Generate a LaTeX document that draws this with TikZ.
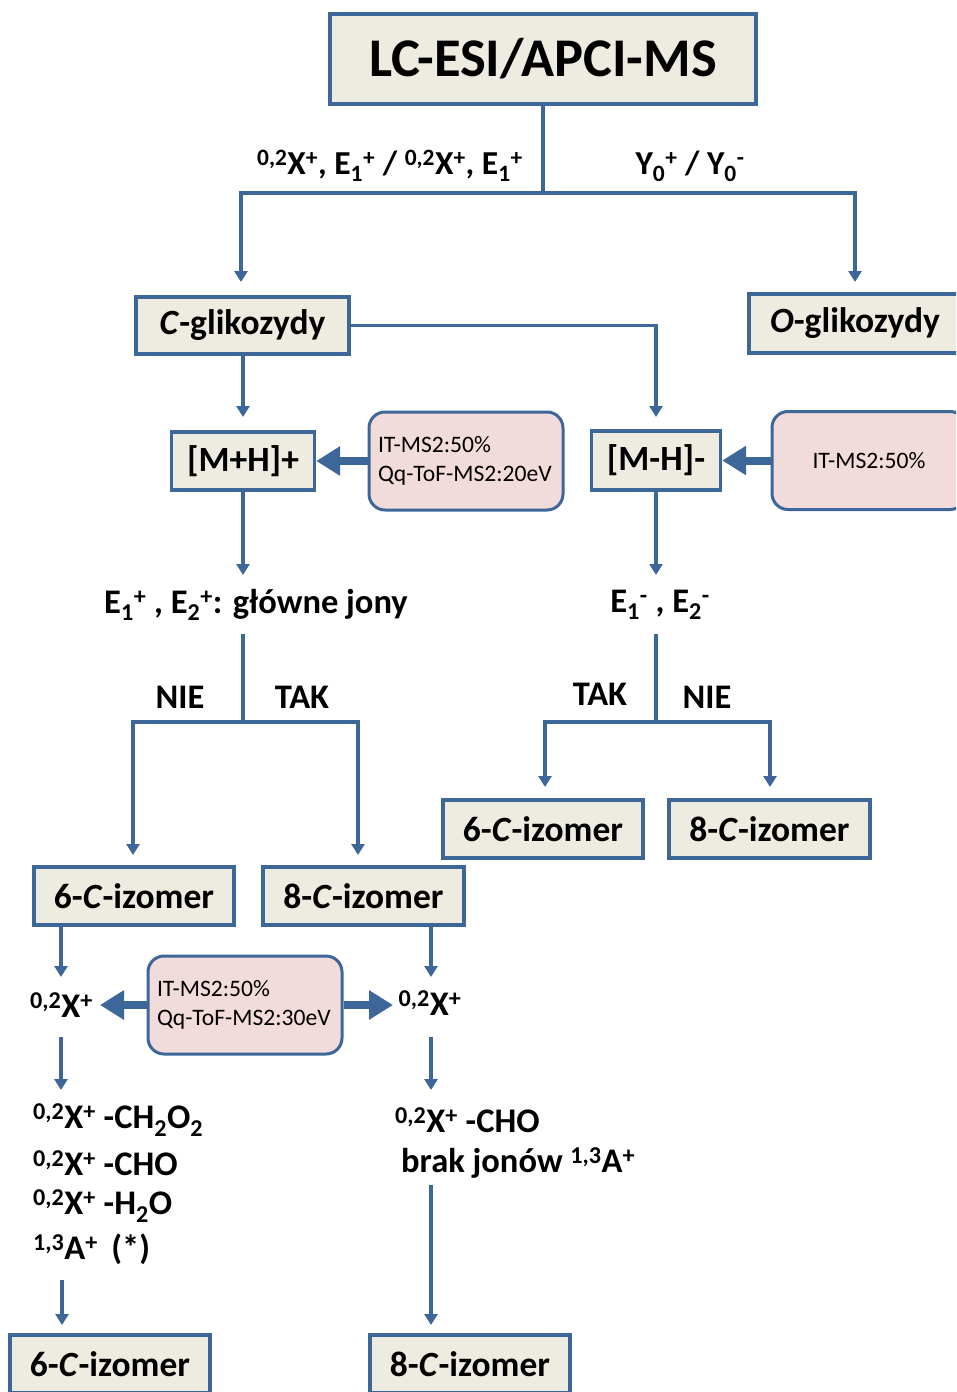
\documentclass[tikz,border=0pt]{standalone}
\usepackage{fontspec}
\setmainfont{Carlito}
\usetikzlibrary{arrows.meta,calc}
\definecolor{edge}{HTML}{3D6699}
\definecolor{boxfill}{HTML}{EEECE1}
\definecolor{pinkfill}{HTML}{F2DCDB}
\newcommand{\up}[1]{\textsuperscript{#1}}
\newcommand{\dn}[1]{\textsubscript{#1}}
\begin{document}
\begin{tikzpicture}[x=1pt,y=-1pt,
  box/.style={draw=edge, line width=3.4pt, fill=boxfill, inner sep=0pt,
    font=\fontsize{35.5}{40}\selectfont\bfseries},
  param/.style={draw=edge, line width=3pt, fill=pinkfill, rounded corners=16pt,
    inner xsep=9pt, inner ysep=0pt, minimum width=194pt, minimum height=98pt,
    text width=176pt, align=left, font=\fontsize{23.6}{28.5}\selectfont},
  wire/.style={draw=edge, line width=3.4pt},
  conn/.style={wire, -{Triangle[length=11pt,width=13pt]}},
  fat/.style={draw=edge, line width=8pt, -{Triangle[length=24pt,width=28pt]}},
  lbl/.style={inner sep=0pt, font=\fontsize{34.5}{40}\selectfont\bfseries},
  toplbl/.style={inner sep=0pt, font=\fontsize{33.5}{40}\selectfont\bfseries},
]
\clip (0,0) rectangle (956,1392);

% --- boxes -------------------------------------------------------------
\node[box, minimum width=426pt, minimum height=90pt,
      font=\fontsize{54.5}{60}\selectfont\bfseries] (title) at (543,59) {LC-ESI/APCI-MS};
\node[box, minimum width=213pt, minimum height=57pt] (cgl) at (242.5,325.5) {\textit{C}-glikozydy};
\node[box, minimum width=212pt, minimum height=59pt] (ogl) at (855,323.5) {\textit{O}-glikozydy};
\node[box, minimum width=143pt, minimum height=58pt] (mh) at (243,461) {[M+H]+};
\node[box, minimum width=129pt, minimum height=59pt] (mmh) at (656,460.5) {[M-H]-};
\node[box, minimum width=200pt, minimum height=58pt] (l6) at (134,896) {6-\textit{C}-izomer};
\node[box, minimum width=201pt, minimum height=58pt] (l8) at (363.5,896) {8-\textit{C}-izomer};
\node[box, minimum width=200pt, minimum height=58pt] (r6) at (543,829) {6-\textit{C}-izomer};
\node[box, minimum width=201pt, minimum height=58pt] (r8) at (769.5,829) {8-\textit{C}-izomer};
\node[box, minimum width=200pt, minimum height=58pt] (b6) at (110,1364) {6-\textit{C}-izomer};
\node[box, minimum width=200pt, minimum height=58pt] (b8) at (470,1364) {8-\textit{C}-izomer};

% --- fragmentation settings ----------------------------------------------
\node[param] (p1) at (466,461) {IT-MS2:50\%\\Qq-ToF-MS2:20eV};
\node[param, align=center] (p2) at (869,460.5) {IT-MS2:50\%};
\node[param] (p3) at (245,1005) {IT-MS2:50\%\\Qq-ToF-MS2:30eV};

% --- texts ---------------------------------------------------------------
\node[toplbl] (ion1) at (390,166) {\up{0,2}X\up{+}, E\dn{1}\up{+} / \up{0,2}X\up{+}, E\dn{1}\up{+}};
\node[toplbl] (ion2) at (690,166) {Y\dn{0}\up{+} / Y\dn{0}\up{-}};
\node[lbl] (eL) at (256,605) {E\dn{1}\up{+} , E\dn{2}\up{+}: główne jony};
\node[lbl] (eR) at (660,605) {E\dn{1}\up{-} , E\dn{2}\up{-}};
\node[lbl] (nieL) at (180,697) {NIE};
\node[lbl] (takL) at (302,697) {TAK};
\node[lbl] (takR) at (600,694) {TAK};
\node[lbl] (nieR) at (707,697) {NIE};
\node[lbl] (xL) at (61.5,1005) {\up{0,2}X\up{+}};
\node[lbl] (xR) at (430,1003) {\up{0,2}X\up{+}};
\node[lbl, anchor=west] (fL1) at (33,1120) {\up{0,2}X\up{+} -CH\dn{2}O\dn{2}};
\node[lbl, anchor=west] (fL2) at (33,1163) {\up{0,2}X\up{+} -CHO};
\node[lbl, anchor=west] (fL3) at (33,1206) {\up{0,2}X\up{+} -H\dn{2}O};
\node[lbl, anchor=west] (fL4) at (33,1249) {\up{1,3}A\up{+} \,(*)};
\node[lbl, anchor=west] (fR1) at (395,1120) {\up{0,2}X\up{+} -CHO};
\node[lbl, anchor=west] (fR2) at (401,1163) {brak jonów \up{1,3}A\up{+}};

% --- junction and tip points ---------------------------------------------
\coordinate (j1) at (543,193);
\coordinate (tC) at (241,282);
\coordinate (tO) at (855,282);
\coordinate (tMH) at (243,417);
\coordinate (tMMH) at (656,417);
\coordinate (tEL) at (243,575);
\coordinate (tER) at (656,575);
\coordinate (sL) at (243,634);
\coordinate (jL) at (243,722);
\coordinate (tL6) at (133,855);
\coordinate (tL8) at (358,855);
\coordinate (sR) at (656,634);
\coordinate (jR) at (656,722);
\coordinate (tR6) at (545,787);
\coordinate (tR8) at (770,787);
\coordinate (tXL) at (61,977);
\coordinate (tXR) at (431,977);
\coordinate (sXL) at (61,1037);
\coordinate (sXR) at (431,1037);
\coordinate (tFL) at (61,1090);
\coordinate (tFR) at (431,1090);
\coordinate (sB6) at (62,1280);
\coordinate (tB6) at (62,1325);
\coordinate (sB8) at (431,1185);
\coordinate (tB8) at (431,1325);
\coordinate (fxL) at (100,1005);
\coordinate (fxR) at (393,1005);

% --- connectors ----------------------------------------------------------
\draw[wire] (title.south) -- (j1);
\draw[conn] (j1) -| (tC);
\draw[conn] (j1) -| (tO);
\draw[conn] (cgl.south -| tMH) -- (tMH);
\draw[conn] (cgl.east) -| (tMMH);
\draw[fat] (p1.west) -- (mh.east);
\draw[fat] (p2.west) -- (mmh.east);
\draw[conn] (mh.south) -- (tEL);
\draw[conn] (mmh.south) -- (tER);
\draw[wire] (sL) -- (jL);
\draw[conn] (jL) -| (tL6);
\draw[conn] (jL) -| (tL8);
\draw[wire] (sR) -- (jR);
\draw[conn] (jR) -| (tR6);
\draw[conn] (jR) -| (tR8);
\draw[conn] (l6.south -| tXL) -- (tXL);
\draw[conn] (l8.south -| tXR) -- (tXR);
\draw[fat] (p3.west) -- (fxL);
\draw[fat] (p3.east) -- (fxR);
\draw[conn] (sXL) -- (tFL);
\draw[conn] (sXR) -- (tFR);
\draw[conn] (sB6) -- (tB6);
\draw[conn] (sB8) -- (tB8);
\end{tikzpicture}
\end{document}
